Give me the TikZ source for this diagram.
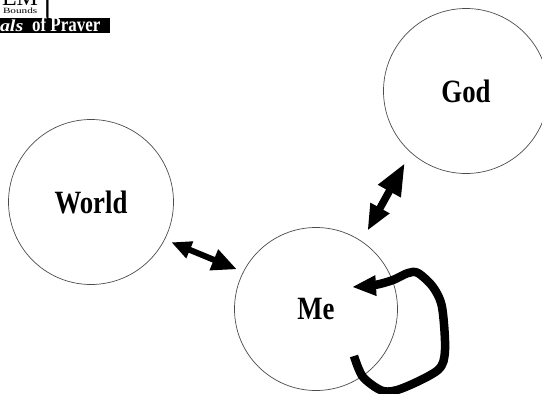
\documentclass[tikz,border=0pt]{standalone}
\usepackage{fontspec}
\usepackage{graphicx}
\setmainfont{Liberation Serif}
\usetikzlibrary{arrows.meta}
\newcommand{\tallword}[1]{\scalebox{1.03}[1.25]{#1}}
\tikzset{
  orb/.style={circle,draw=black!70,line width=0.7pt,fill=white,inner sep=0pt,outer sep=0pt,minimum size=#1,font=\fontsize{26}{26}\selectfont\bfseries},
  dblarrow/.style={draw=black,line width=#1},
  looparrow/.style={draw=black,line width=8.5pt,line join=round},
  hdr/.style={inner sep=0pt,outer sep=0pt,anchor=base west}
}
\begin{document}
\begin{tikzpicture}[x=1pt,y=-1pt]
\useasboundingbox (0,0) rectangle (542,394);
\begin{scope}
\clip (0,0) rectangle (542,394);
\fill[black] (0,18) rectangle (110,33);
\node[hdr,font=\fontsize{24}{24}\selectfont] (em) at (2,5) {EM};
\node[hdr,font=\fontsize{8}{8}\selectfont] (bounds) at (3,13) {\scalebox{1.4}[1]{Bounds}};
\node[hdr,font=\fontsize{30}{30}\selectfont] (brk) at (41,16) {]};
\node[hdr,text=white,font=\fontsize{16}{16}\selectfont\bfseries\itshape] (als) at (0,31) {\scalebox{1.25}[1.05]{als}};
\node[hdr,text=white,font=\fontsize{17}{17}\selectfont\bfseries] (prayer) at (32,31) {\scalebox{1}[1.2]{of Praver}};
\node[orb=165pt] (God) at (466,91) {\tallword{God}};
\end{scope}
\node[orb=165pt] (World) at (91,202) {\tallword{World}};
\node[orb=163pt] (Me) at (316,309) {\tallword{Me}};
\draw[dblarrow=7.5pt,shorten <=12.4pt,shorten >=12.2pt,{Triangle[length=32pt,width=24pt]}-{Triangle[length=26pt,width=20pt]}] (God.228.4) -- (Me.56.3);
\draw[dblarrow=6pt,shorten <=7.4pt,shorten >=7pt,{Triangle[length=20pt,width=17pt]}-{Triangle[length=25pt,width=21pt]}] (World.-27.1) -- (Me.153.1);
\coordinate (loopStart) at (354,356);
\coordinate (loopEnd) at (352,287);
\draw[looparrow,-{Triangle[length=24pt,width=19pt]}] plot[smooth,tension=0.5] coordinates {(loopStart) (363,377) (383,391) (403,388) (438,370) (445,350) (442,307) (433,287) (418,273) (408,273) (393,280) (375,285) (loopEnd)};
\end{tikzpicture}
\end{document}
